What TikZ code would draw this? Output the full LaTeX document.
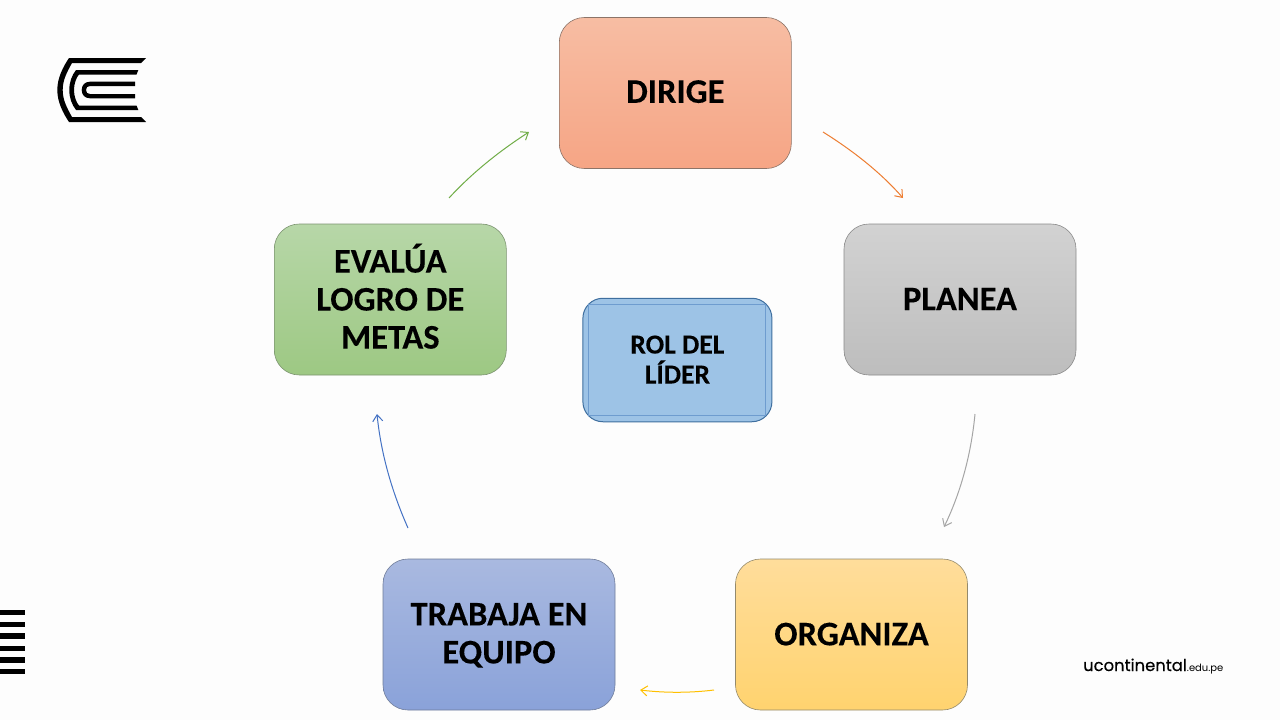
\documentclass[tikz,border=0pt]{standalone}
\usepackage{fontspec}
\setmainfont{Carlito}[BoldFeatures={FakeBold=0.15}]
\newfontfamily\brandfont{Poppins}[FakeBold=0.35]
\newfontfamily\brandlight{Poppins}
\usetikzlibrary{arrows.meta}
\definecolor{bgc}{HTML}{FDFDFD}
\definecolor{dirA}{HTML}{F7BDA3}\definecolor{dirB}{HTML}{F6A585}\definecolor{dirL}{HTML}{8C7468}
\definecolor{plaA}{HTML}{D2D2D2}\definecolor{plaB}{HTML}{BDBDBD}\definecolor{plaL}{HTML}{8A8A8A}
\definecolor{orgA}{HTML}{FFDD9B}\definecolor{orgB}{HTML}{FFD36F}\definecolor{orgL}{HTML}{948A6C}
\definecolor{traA}{HTML}{A9B9E0}\definecolor{traB}{HTML}{8AA2D9}\definecolor{traL}{HTML}{6F7C99}
\definecolor{evaA}{HTML}{B7D7A8}\definecolor{evaB}{HTML}{9DC883}\definecolor{evaL}{HTML}{7C9470}
\definecolor{rolF}{HTML}{9DC3E6}\definecolor{rolL}{HTML}{3F6F9F}\definecolor{rolI}{HTML}{6E9CCF}
\definecolor{arO}{HTML}{ED7D31}\definecolor{arG}{HTML}{A5A5A5}\definecolor{arY}{HTML}{FFC000}\definecolor{arB}{HTML}{4472C4}\definecolor{arV}{HTML}{70AD47}
\tikzset{x=1pt,y=-1pt,
  card/.style={draw=#1,line width=0.6pt,rounded corners=25pt,minimum width=232pt,minimum height=151pt,align=center,inner sep=0pt,font=\bfseries\fontsize{34.5}{38}\selectfont,text=black},
  flow/.style={draw=#1,line width=1pt,-{Straight Barb[length=6.5pt,width=10pt,line width=1pt]}}}
\newcommand{\gradcard}[6]{%
  \node[card=#6,top color=#4,bottom color=#5] (#1) at (#2) {#3};}
\newcommand{\txtlines}[2]{\raisebox{#1}[0pt][0pt]{\begin{tabular}{@{}c@{}}#2\end{tabular}}}
\begin{document}
\begin{tikzpicture}
\useasboundingbox[fill=bgc] (0,0) rectangle (1280,720);
% boxes
\gradcard{dirige}{675.3,93}{\raisebox{3pt}{DIRIGE}}{dirA}{dirB}{dirL}
\gradcard{planea}{960,299.5}{\raisebox{1pt}{PLANEA}}{plaA}{plaB}{plaL}
\gradcard{organiza}{851.5,634.5}{\raisebox{1pt}{ORGANIZA}}{orgA}{orgB}{orgL}
\gradcard{trabaja}{499,634.5}{\txtlines{-8.5pt}{TRABAJA EN\\EQUIPO}}{traA}{traB}{traL}
\gradcard{evalua}{390.3,299.5}{\txtlines{-8.5pt}{EVALÚA\\LOGRO DE\\METAS}}{evaA}{evaB}{evaL}
% centre
\node[draw=rolL,line width=1pt,fill=rolF,rounded corners=20pt,minimum width=189pt,minimum height=123.5pt,align=center,inner sep=0pt,font=\bfseries\fontsize{27.5}{30}\selectfont] (rol) at (677.4,360) {\raisebox{1pt}{ROL DEL}\\\raisebox{1pt}{LÍDER}};
\draw[rolI,line width=1pt] ([xshift=6pt,yshift=-6.5pt]rol.north west) rectangle ([xshift=-6.5pt,yshift=6.5pt]rol.south east);
% connectors
\coordinate (a1) at (823,132); \coordinate (a2) at (903,198);
\coordinate (b1) at (975,414); \coordinate (b2) at (944,527);
\coordinate (c1) at (714,690); \coordinate (c2) at (640,690);
\coordinate (d1) at (408,528); \coordinate (d2) at (377,414);
\coordinate (e1) at (449,198); \coordinate (e2) at (529,132);
\draw[flow=arO] (a1) .. controls (855,152) and (882,174) .. (a2);
\draw[flow=arG] (b1) .. controls (971,456) and (960,494) .. (b2);
\draw[flow=arY] (c1) .. controls (690,693) and (665,693) .. (c2);
\draw[flow=arB] (d1) .. controls (392,492) and (381,454) .. (d2);
\draw[flow=arV] (e1) .. controls (471,174) and (498,152) .. (e2);
% logo
\fill[black] (146,58) -- (69,58) .. controls (63,67) and (57.3,78) .. (57.3,90) .. controls (57.3,102) and (63,113) .. (69,122) -- (146,122) -- (141,117) -- (72,117) .. controls (67,108) and (62.7,100) .. (62.7,90) .. controls (62.7,80) and (67,72) .. (72,63) -- (141,63) -- cycle;
\fill[black] (138.3,70) -- (76,70) .. controls (72,75) and (69.3,82) .. (69.3,90) .. controls (69.3,98) and (72,105) .. (76,110) -- (138.3,110) -- (136.5,105.5) -- (79,105.5) .. controls (76,102) and (74,96) .. (74,90) .. controls (74,84) and (76,78) .. (79,74.5) -- (136.5,74.5) -- cycle;
\fill[black] (135,81.7) -- (90,81.7) .. controls (85,81.7) and (81.7,85) .. (81.7,90) .. controls (81.7,95) and (85,98.3) .. (90,98.3) -- (135,98.3) -- (135,94) -- (90,94) .. controls (87.5,94) and (86,92.5) .. (86,90) .. controls (86,87.5) and (87.5,86) .. (90,86) -- (135,86) -- cycle;
\foreach \yy in {612.5,624.3,636,648.2,660,671.7}
  \fill[black] (0,\yy-2.7) rectangle (24.5,\yy+2.7);
\node[anchor=base west,inner sep=0pt,font=\brandfont\fontsize{16.4}{20}\selectfont] (brand) at (1083,671) {ucontinental{\brandlight\fontsize{10}{12}\selectfont.edu.pe}};
\end{tikzpicture}
\end{document}
